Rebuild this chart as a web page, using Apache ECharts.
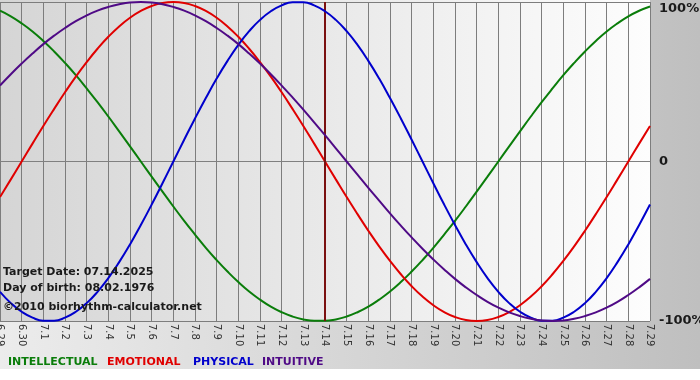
<!DOCTYPE html>
<html>
<head>
<meta charset="utf-8">
<script src="https://cdn.jsdelivr.net/npm/echarts@6/dist/echarts.min.js"></script>
<style>
html,body{margin:0;padding:0;background:#fff;}
#c{width:700px;height:380px;}
</style>
</head>
<body>
<div id="c"></div>
<script>
// Day labels (6.29 .. 7.29)
var days = ['6.29','6.30','7.1','7.2','7.3','7.4','7.5','7.6','7.7','7.8','7.9','7.10','7.11','7.12','7.13','7.14','7.15','7.16','7.17','7.18','7.19','7.20','7.21','7.22','7.23','7.24','7.25','7.26','7.27','7.28','7.29'];
var targetDay = '7.14';
// Values in percent at every half day (6.29, 6.29+12h, 6.30, ...)
var intellectual = [94.5, 91.0, 86.6, 81.5, 75.6, 69.0, 61.8, 54.1, 45.8, 37.2, 28.2, 18.9, 9.5, 0, -9.5, -18.9, -28.2, -37.2, -45.8, -54.1, -61.8, -69.0, -75.6, -81.5, -86.6, -91.0, -94.5, -97.2, -99.0, -99.9, -99.9, -99.0, -97.2, -94.5, -91.0, -86.6, -81.5, -75.6, -69.0, -61.8, -54.1, -45.8, -37.2, -28.2, -18.9, -9.5, 0, 9.5, 18.9, 28.2, 37.2, 45.8, 54.1, 61.8, 69.0, 75.6, 81.5, 86.6, 91.0, 94.5, 97.2];
var emotional = [-22.3, -11.2, 0, 11.2, 22.3, 33.0, 43.4, 53.2, 62.3, 70.7, 78.2, 84.7, 90.1, 94.4, 97.5, 99.4, 100, 99.4, 97.5, 94.4, 90.1, 84.7, 78.2, 70.7, 62.3, 53.2, 43.4, 33.0, 22.3, 11.2, 0, -11.2, -22.3, -33.0, -43.4, -53.2, -62.3, -70.7, -78.2, -84.7, -90.1, -94.4, -97.5, -99.4, -100, -99.4, -97.5, -94.4, -90.1, -84.7, -78.2, -70.7, -62.3, -53.2, -43.4, -33.0, -22.3, -11.2, 0, 11.2, 22.3];
var physical = [-81.7, -88.8, -94.2, -97.9, -99.8, -99.8, -97.9, -94.2, -88.8, -81.7, -73.1, -63.1, -52.0, -39.8, -27.0, -13.6, 0, 13.6, 27.0, 39.8, 52.0, 63.1, 73.1, 81.7, 88.8, 94.2, 97.9, 99.8, 99.8, 97.9, 94.2, 88.8, 81.7, 73.1, 63.1, 52.0, 39.8, 27.0, 13.6, 0, -13.6, -27.0, -39.8, -52.0, -63.1, -73.1, -81.7, -88.8, -94.2, -97.9, -99.8, -99.8, -97.9, -94.2, -88.8, -81.7, -73.1, -63.1, -52.0, -39.8, -27.0];
var intuitive = [47.6, 54.7, 61.4, 67.7, 73.6, 78.9, 83.7, 88.0, 91.6, 94.6, 96.9, 98.6, 99.7, 100, 99.7, 98.6, 96.9, 94.6, 91.6, 88.0, 83.7, 78.9, 73.6, 67.7, 61.4, 54.7, 47.6, 40.2, 32.5, 24.5, 16.5, 8.3, 0, -8.3, -16.5, -24.5, -32.5, -40.2, -47.6, -54.7, -61.4, -67.7, -73.6, -78.9, -83.7, -88.0, -91.6, -94.6, -96.9, -98.6, -99.7, -100, -99.7, -98.6, -96.9, -94.6, -91.6, -88.0, -83.7, -78.9, -73.6];
var yTicks = [-100, 0, 100];
var seriesNames = ['INTELLECTUAL', 'EMOTIONAL', 'PHYSICAL', 'INTUITIVE'];
var infoLines = ['Target Date: 07.14.2025', 'Day of birth: 08.02.1976', '\u00A92010 biorhythm-calculator.net'];

var colors = ['#0a7d0a', '#e00000', '#0000cc', '#4f0a86'];
var dataSets = [intellectual, emotional, physical, intuitive];
var legendX = [8, 107, 193, 262];

// category slots: each day plus its midday point
var slots = [];
days.forEach(function (d, i) {
  slots.push(d);
  if (i < days.length - 1) slots.push(d + ' 12h');
});
function isDay(i) { return i % 2 === 0; }

var chart = echarts.init(document.getElementById('c'), null, {renderer: 'canvas'});

var series = dataSets.map(function (d, k) {
  return {
    name: seriesNames[k], type: 'line', data: d, smooth: 0.5,
    symbol: 'none', lineStyle: {color: colors[k], width: 2}, itemStyle: {color: colors[k]},
    z: 3 + k, animation: false
  };
});
series[0].markLine = {
  symbol: ['none', 'none'], silent: true, animation: false,
  label: {show: false},
  lineStyle: {color: '#7a1010', width: 2, type: 'solid'},
  data: [{xAxis: targetDay}]
};

var graphics = [
  {type: 'rect', z: -20, shape: {x: 0, y: 0, width: 700, height: 369},
   style: {fill: new echarts.graphic.LinearGradient(0, 0, 1, 0, [{offset: 0, color: '#ececec'}, {offset: 1, color: '#bfbfbf'}])}},
  {type: 'rect', z: -19, shape: {x: 0, y: 0, width: 650, height: 321},
   style: {fill: new echarts.graphic.LinearGradient(0, 0, 1, 0, [{offset: 0, color: '#d5d5d5'}, {offset: 1, color: '#fdfdfd'}])}}
];
infoLines.forEach(function (t, i) {
  graphics.push({type: 'text', z: 10, left: 3, top: [267, 283, 302][i],
    style: {text: t, fill: '#1a1a1a', font: 'bold 11px "DejaVu Sans", Verdana, sans-serif'}});
});
seriesNames.forEach(function (n, i) {
  graphics.push({type: 'text', z: 10, left: legendX[i], top: 357,
    style: {text: n, fill: colors[i], font: 'bold 11px "DejaVu Sans", Verdana, sans-serif'}});
});

chart.setOption({
  animation: false,
  grid: {left: 0, right: 50, top: 2, bottom: 59, containLabel: false, outerBoundsMode: 'none'},
  xAxis: {
    type: 'category', data: slots, boundaryGap: false,
    axisLine: {show: true, lineStyle: {color: '#808080', width: 1}},
    axisTick: {show: false},
    splitLine: {show: true, interval: function (i) { return isDay(i); }, lineStyle: {color: '#7d7d7d', width: 1}},
    axisLabel: {interval: function (i) { return isDay(i); }, rotate: -90, color: '#333', fontSize: 10, margin: 3,
      fontFamily: '"DejaVu Sans", Verdana, sans-serif'}
  },
  yAxis: {
    type: 'value', position: 'right', min: -100, max: 100, interval: 100,
    axisLine: {show: false}, axisTick: {show: false},
    splitLine: {show: true, lineStyle: {color: '#7d7d7d', width: 1}},
    axisLabel: {
      margin: 9, color: '#1a1a1a', fontWeight: 'bold', fontSize: 13,
      fontFamily: '"DejaVu Sans", Verdana, sans-serif',
      verticalAlignMaxLabel: 'top',
      formatter: function (v) { return yTicks.indexOf(v) < 0 ? '' : (v === 0 ? '0' : v + '%'); }
    }
  },
  graphic: graphics,
  series: series
});
</script>
</body>
</html>
